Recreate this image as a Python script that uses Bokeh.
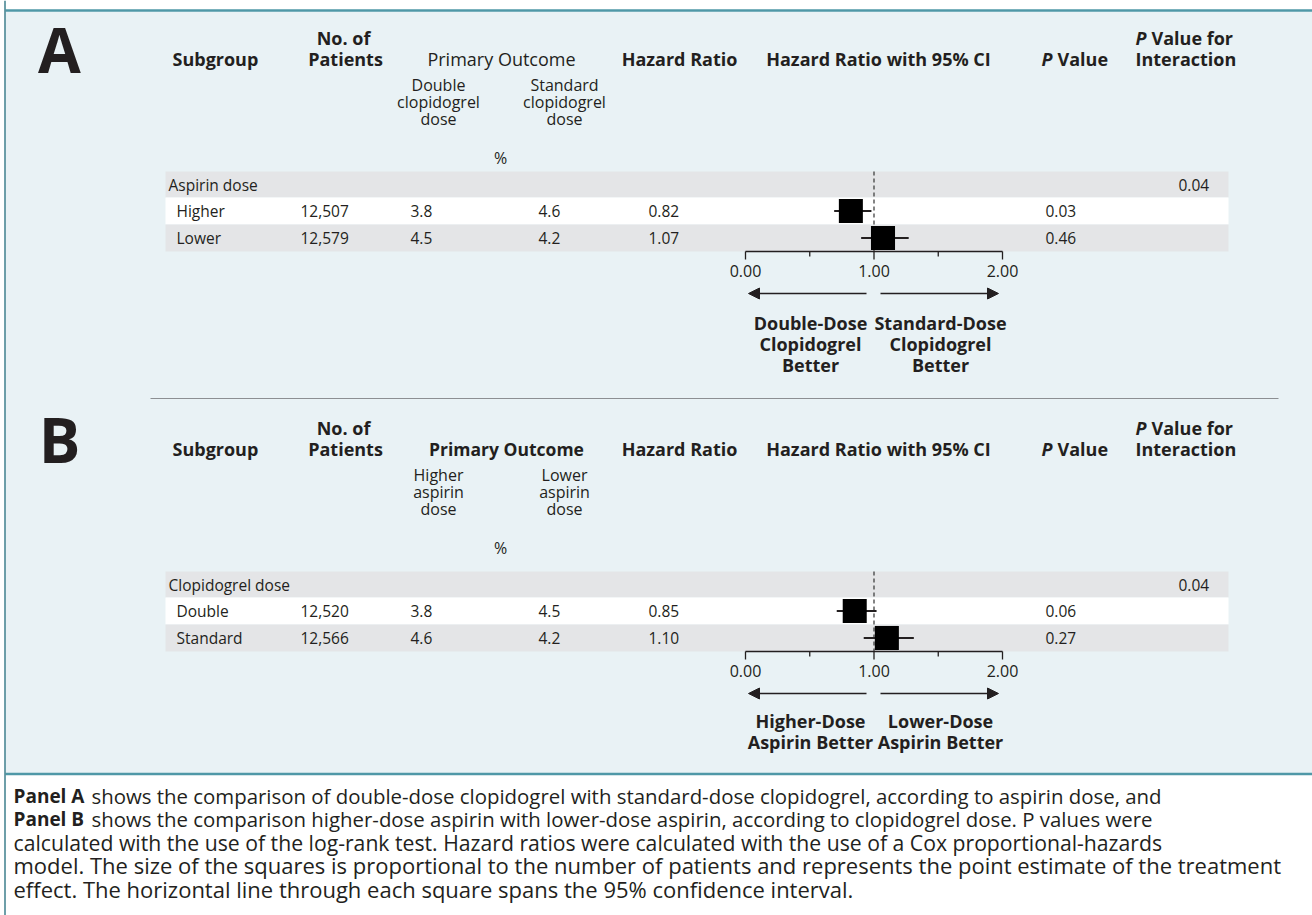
from bokeh.plotting import figure
from bokeh.models import Range1d, Arrow, NormalHead
from bokeh.core.properties import value
from bokeh.embed import file_html
from bokeh.resources import INLINE

# ---------------- data ----------------
a_rows = ["Aspirin dose", "Higher", "Lower"]
a_patients = ["12,507", "12,579"]
a_double = [3.8, 4.5]
a_standard = [4.6, 4.2]
a_hr = [0.82, 1.07]
a_lo = [0.69, 0.90]
a_hi = [0.98, 1.27]
a_p = ["0.03", "0.46"]
a_pint = "0.04"

b_rows = ["Clopidogrel dose", "Double", "Standard"]
b_patients = ["12,520", "12,566"]
b_higher = [3.8, 4.6]
b_lower = [4.5, 4.2]
b_hr = [0.85, 1.10]
b_lo = [0.71, 0.92]
b_hi = [1.02, 1.31]
b_p = ["0.06", "0.27"]
b_pint = "0.04"

hr_ticks = [0.0, 0.5, 1.0, 1.5, 2.0]
hr_tick_labels = ["0.00", "1.00", "2.00"]
hr_label_ticks = [0.0, 1.0, 2.0]

caption = [
    ("Panel A", "shows the comparison of double-dose clopidogrel with standard-dose clopidogrel, according to aspirin dose, and"),
    ("Panel B", "shows the comparison higher-dose aspirin with lower-dose aspirin, according to clopidogrel dose. P values were"),
    ("", "calculated with the use of the log-rank test. Hazard ratios were calculated with the use of a Cox proportional-hazards"),
    ("", "model. The size of the squares is proportional to the number of patients and represents the point estimate of the treatment"),
    ("", "effect. The horizontal line through each square spans the 95% confidence interval."),
]

# ---------------- style ----------------
W, H = 1312, 915
TXT = "#231f20"
PANEL_BG = "#e9f2f5"
BAND = "#e4e5e7"
TEAL = "#4f98a7"
BORDER = "#3e7f8c"
FONT = "Open Sans"
CAPTION_SIZES = ["20.4px", "20.4px", "21.2px", "22px", "22px"]

HR0_PX = 745.0     # pixel of HR = 0
HR_UNIT = 128.5    # pixels per HR unit

p = figure(width=W, height=H, x_range=Range1d(0, W), y_range=Range1d(H, 0),
           output_backend="svg", toolbar_location=None,
           x_axis_location=None, y_axis_location=None, min_border=0)
p.grid.visible = False
p.outline_line_color = None
p.background_fill_color = "white"
p.border_fill_color = "white"
p.extra_x_ranges = {"hr": Range1d(-HR0_PX / HR_UNIT, (W - HR0_PX) / HR_UNIT)}


def txt(x, y, s, size="15px", style="normal", align="left", color=TXT, rng=None, font=FONT):
    kw = {}
    if rng:
        kw["x_range_name"] = rng
    if not isinstance(x, list):
        x, y, s = [x], [y], [s]
    p.text(x=x, y=y, text=s, text_font=value(font), text_font_size=value(size),
           text_font_style=style, text_align=align, text_baseline="middle",
           text_color=color, **kw)


# backgrounds
p.quad(left=[5], right=[W], top=[11], bottom=[773], fill_color=PANEL_BG, line_color=None)
p.segment(x0=[5], x1=[W], y0=[10], y1=[10], line_color=TEAL, line_width=2.5)
p.segment(x0=[5], x1=[W], y0=[773.5], y1=[773.5], line_color=TEAL, line_width=2.5)
p.segment(x0=[4.5], x1=[4.5], y0=[0], y1=[H], line_color=BORDER, line_width=1.5)
# separator between panels
p.segment(x0=[150], x1=[1278], y0=[398], y1=[398], line_color="#8c8f92", line_width=1.2)

HDR = "18px"
SUB = "16px"
CELL = "15.5px"


def panel(top, letter, rows, patients, c1, c2, hr, lo, hi, pv, pint,
          sub1, sub2, outcome_bold, bottom_left, bottom_right, sub_y, pct_y, row_top, lab_off):
    # big letter
    txt(59, top + 48, letter, size="62px", style="bold", align="center")
    # header line 1
    txt(343, top + 37, "No. of", size=HDR, style="bold", align="center")
    txt(1135, top + 37, "P", size=HDR, style="bold italic")
    txt(1151, top + 37, "Value for", size=HDR, style="bold")
    # header line 2
    y2 = top + 58
    txt(172, y2, "Subgroup", size=HDR, style="bold")
    txt(345, y2, "Patients", size=HDR, style="bold", align="center")
    if outcome_bold:
        txt(506, y2, "Primary Outcome", size="17.5px", style="bold", align="center")
    else:
        txt(501, y2, "Primary Outcome", size="18px", align="center")
    txt(679, y2, "Hazard Ratio", size=HDR, style="bold", align="center")
    txt(878, y2, "Hazard Ratio with 95% CI", size=HDR, style="bold", align="center")
    txt(1041, y2, "P", size=HDR, style="bold italic")
    txt(1057, y2, "Value", size=HDR, style="bold")
    txt(1135, y2, "Interaction", size=HDR, style="bold")
    # sub headers
    for i, (a, b) in enumerate(zip(sub1, sub2)):
        txt(438, sub_y + 17 * i, a, size=SUB, align="center")
        txt(564, sub_y + 17 * i, b, size=SUB, align="center")
    txt(500, pct_y, "%", size=SUB, align="center")

    # row bands
    rh = [row_top, row_top + 26, row_top + 53, row_top + 80]
    p.quad(left=[165, 165, 165], right=[1228, 1228, 1228],
           top=rh[:3], bottom=rh[1:], fill_color=[BAND, "white", BAND], line_color=None)
    yc = [(rh[i] + rh[i + 1]) / 2 for i in range(3)]
    txt(168, yc[0], rows[0], size=CELL)
    txt(1178, yc[0], pint, size=CELL)
    for i in range(2):
        y = yc[i + 1]
        txt(176, y, rows[i + 1], size=CELL)
        txt(300, y, patients[i], size=CELL)
        txt(410, y, f"{c1[i]:.1f}", size=CELL)
        txt(538, y, f"{c2[i]:.1f}", size=CELL)
        txt(648, y, f"{hr[i]:.2f}", size=CELL)
        txt(1045, y, pv[i], size=CELL)

    axis_y = rh[3]
    # dashed line at HR = 1
    p.segment(x0=[1.0], x1=[1.0], y0=[rh[0]], y1=[axis_y], x_range_name="hr",
              line_color="#333333", line_width=1.2, line_dash="4 3")
    # CI lines and squares
    p.segment(x0=lo, x1=hi, y0=yc[1:], y1=yc[1:], x_range_name="hr",
              line_color="#231f20", line_width=2)
    sizes = [24.0 * (n / 12500.0) ** 0.5 for n in [float(s.replace(",", "")) for s in patients]]
    p.rect(x=hr, y=yc[1:], width=sizes, height=sizes, width_units="screen",
           height_units="screen", x_range_name="hr", fill_color="black", line_color=None)
    # axis
    p.segment(x0=[hr_ticks[0]], x1=[hr_ticks[-1]], y0=[axis_y], y1=[axis_y],
              x_range_name="hr", line_color="#231f20", line_width=1.3)
    tick_len = [8, 5, 8, 5, 8]
    p.segment(x0=hr_ticks, x1=hr_ticks, y0=[axis_y] * 5, y1=[axis_y + t for t in tick_len],
              x_range_name="hr", line_color="#231f20", line_width=1.3)
    txt(hr_label_ticks, [axis_y + 19] * 3, hr_tick_labels, size="16px", align="center", rng="hr")
    # arrows
    ay = axis_y + 42
    head = dict(size=11, fill_color="#231f20", line_color="#231f20")
    p.add_layout(Arrow(end=NormalHead(**head), x_start=866, y_start=ay, x_end=748, y_end=ay,
                       line_color="#231f20", line_width=1.5))
    p.add_layout(Arrow(end=NormalHead(**head), x_start=880, y_start=ay, x_end=998, y_end=ay,
                       line_color="#231f20", line_width=1.5))
    for i, s in enumerate(bottom_left):
        txt(810, ay + lab_off + 21 * i, s, size="18px", style="bold", align="center")
    for i, s in enumerate(bottom_right):
        txt(940, ay + lab_off + 21 * i, s, size="18px", style="bold", align="center")


panel(0, "A", a_rows, a_patients, a_double, a_standard, a_hr, a_lo, a_hi, a_p, a_pint,
      ["Double", "clopidogrel", "dose"], ["Standard", "clopidogrel", "dose"], False,
      ["Double-Dose", "Clopidogrel", "Better"], ["Standard-Dose", "Clopidogrel", "Better"],
      84, 157, 171, 29)
panel(390, "B", b_rows, b_patients, b_higher, b_lower, b_hr, b_lo, b_hi, b_p, b_pint,
      ["Higher", "aspirin", "dose"], ["Lower", "aspirin", "dose"], True,
      ["Higher-Dose", "Aspirin Better"], ["Lower-Dose", "Aspirin Better"],
      474, 547, 571, 27)

# caption
for i, (b, rest) in enumerate(caption):
    y = 795 + 23.3 * i
    size = CAPTION_SIZES[i]
    if b:
        txt(13, y, b, size="19px", style="bold")
        txt(91, y, rest, size=size)
    else:
        txt(13, y, rest, size=size)

open("out.html", "w").write(file_html(p, INLINE))
